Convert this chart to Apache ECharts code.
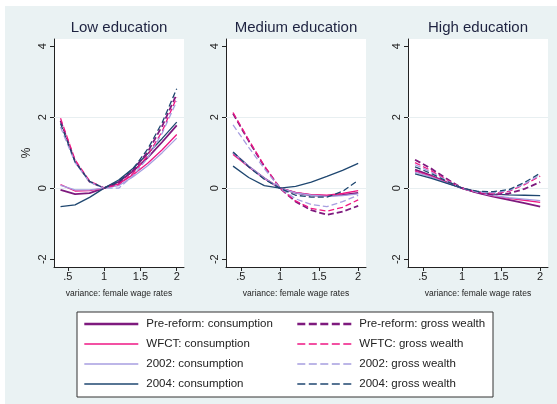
<!DOCTYPE html>
<html><head><meta charset="utf-8">
<script src="https://cdn.jsdelivr.net/npm/echarts@6/dist/echarts.min.js"></script>
<style>html,body{margin:0;padding:0;background:#fff}#c{width:557px;height:404px}</style>
</head><body><div id="c"></div>
<script>
// variance multiplier on female wage rates
const xs = [0.4, 0.6, 0.8, 1.0, 1.2, 1.4, 1.6, 1.8, 2.0];

const panelTitles = ['Low education', 'Medium education', 'High education'];
const xTicks = [0.5, 1, 1.5, 2];
const xTickLabels = ['.5', '1', '1.5', '2'];
const yTicks = [-2, 0, 2, 4];
const yTickLabels = ['-2', '0', '2', '4'];

const seriesNames = [
  'Pre-reform: consumption', 'WFCT: consumption', '2002: consumption', '2004: consumption',
  'Pre-reform: gross wealth', 'WFTC: gross wealth', '2002: gross wealth', '2004: gross wealth'
];

// Low education (% change)
const lowPreCons   = [-0.05, -0.17, -0.14, 0, 0.18, 0.48, 0.86, 1.30, 1.77];
const lowWfctCons  = [0.10, -0.08, -0.07, 0, 0.12, 0.38, 0.70, 1.08, 1.51];
const low02Cons    = [0.08, -0.05, -0.05, 0, 0.07, 0.32, 0.63, 1.00, 1.41];
const low04Cons    = [-0.52, -0.47, -0.26, 0, 0.23, 0.56, 0.97, 1.40, 1.86];
const lowPreGross  = [1.90, 0.76, 0.18, 0, 0.15, 0.50, 1.02, 1.75, 2.65];
const lowWftcGross = [1.97, 0.80, 0.20, 0, 0.10, 0.42, 0.92, 1.60, 2.55];
const low02Gross   = [1.72, 0.72, 0.17, 0, 0.00, 0.35, 0.85, 1.55, 2.45];
const low04Gross   = [1.82, 0.74, 0.19, 0, 0.18, 0.55, 1.10, 1.85, 2.80];

// Medium education
const medPreCons   = [1.00, 0.61, 0.28, 0, -0.13, -0.20, -0.22, -0.19, -0.13];
const medWfctCons  = [0.95, 0.60, 0.27, 0, -0.12, -0.18, -0.20, -0.15, -0.07];
const med02Cons    = [1.00, 0.62, 0.28, 0, -0.13, -0.20, -0.23, -0.21, -0.16];
const med04Cons    = [0.62, 0.30, 0.07, 0, 0.05, 0.17, 0.33, 0.50, 0.70];
const medPreGross  = [2.10, 1.33, 0.61, 0, -0.38, -0.62, -0.75, -0.66, -0.50];
const medWftcGross = [2.13, 1.36, 0.63, 0, -0.36, -0.57, -0.65, -0.54, -0.33];
const med02Gross   = [1.78, 1.15, 0.55, 0, -0.30, -0.46, -0.52, -0.38, -0.20];
const med04Gross   = [1.02, 0.60, 0.25, 0, -0.20, -0.25, -0.25, -0.09, 0.22];

// High education
const highPreCons   = [0.52, 0.36, 0.17, 0, -0.13, -0.24, -0.33, -0.42, -0.52];
const highWfctCons  = [0.48, 0.34, 0.16, 0, -0.12, -0.22, -0.29, -0.34, -0.40];
const high02Cons    = [0.45, 0.32, 0.15, 0, -0.12, -0.21, -0.27, -0.31, -0.35];
const high04Cons    = [0.40, 0.28, 0.14, 0, -0.10, -0.17, -0.19, -0.20, -0.21];
const highPreGross  = [0.80, 0.56, 0.27, 0, -0.13, -0.18, -0.15, -0.02, 0.17];
const highWftcGross = [0.72, 0.50, 0.24, 0, -0.12, -0.15, -0.09, 0.10, 0.34];
const high02Gross   = [0.66, 0.46, 0.22, 0, -0.11, -0.13, -0.07, 0.12, 0.37];
const high04Gross   = [0.60, 0.42, 0.20, 0, -0.09, -0.10, -0.04, 0.16, 0.42];

const panelData = [
  [lowPreCons, lowWfctCons, low02Cons, low04Cons, lowPreGross, lowWftcGross, low02Gross, low04Gross],
  [medPreCons, medWfctCons, med02Cons, med04Cons, medPreGross, medWftcGross, med02Gross, med04Gross],
  [highPreCons, highWfctCons, high02Cons, high04Cons, highPreGross, highWftcGross, high02Gross, high04Gross]
];

const colors = ['#7e1a7e', '#ef1784', '#a79ee0', '#1f4770'];
const styleOf = i => ({
  color: colors[i % 4],
  type: i >= 4 ? [6, 3] : 'solid',
  width: (i % 4 === 0) ? 1.8 : 1.3
});

const gridBoxes = [
  { left: 54, width: 130 },
  { left: 226, width: 140 },
  { left: 408, width: 140 }
];
const TOP = 39, HEIGHT = 228;
const FONT = '"Liberation Sans", Arial, sans-serif';
const INK = '#222';

const grids = [], xAxes = [], yAxes = [], titles = [], series = [];
gridBoxes.forEach((g, p) => {
  grids.push({ left: g.left, width: g.width, top: TOP, height: HEIGHT,
    show: true, backgroundColor: '#ffffff', borderWidth: 0 });
  titles.push({ text: panelTitles[p], left: g.left + g.width / 2, top: 20, textAlign: 'center',
    padding: 0,
    textStyle: { fontFamily: FONT, fontSize: 15, fontWeight: 'normal', color: '#1e2340' } });
  xAxes.push({ type: 'value', gridIndex: p, min: 0.31, max: 2.1,
    name: 'variance: female wage rates', nameLocation: 'middle', nameGap: 22,
    nameTextStyle: { fontFamily: FONT, fontSize: 8.5, color: INK },
    axisLine: { show: true, onZero: false, lineStyle: { color: '#222', width: 1 } },
    axisTick: { show: true, length: 4, customValues: xTicks, lineStyle: { color: '#222' } },
    axisLabel: { customValues: xTicks, margin: 4, fontFamily: FONT, fontSize: 11, color: INK,
      formatter: v => xTickLabels[xTicks.indexOf(v)] },
    splitLine: { show: false } });
  yAxes.push({ type: 'value', gridIndex: p, min: -2.22, max: 4.2,
    name: p === 0 ? '%' : '', nameLocation: 'middle', nameGap: 21, nameRotate: 90,
    nameTextStyle: { fontFamily: FONT, fontSize: 12, color: INK },
    axisLine: { show: true, onZero: false, lineStyle: { color: '#222', width: 1 } },
    axisTick: { show: true, length: 4, customValues: yTicks, lineStyle: { color: '#222' } },
    axisLabel: { customValues: yTicks, rotate: 90, margin: 6, fontFamily: FONT, fontSize: 11, color: INK,
      formatter: v => yTickLabels[yTicks.indexOf(v)] },
    splitLine: { show: false } });
  panelData[p].forEach((arr, i) => {
    const s = {
      type: 'line', name: seriesNames[i], xAxisIndex: p, yAxisIndex: p,
      data: xs.map((x, k) => [x, arr[k]]),
      symbol: 'none', smooth: false, lineStyle: styleOf(i), itemStyle: { color: colors[i % 4] },
      animation: false, z: 3
    };
    if (i === 0) {
      s.markLine = { silent: true, symbol: 'none', label: { show: false },
        lineStyle: { color: '#e8eff1', type: 'solid', width: 1 },
        data: [{ yAxis: 0 }, { yAxis: 2 }], z: 1 };
    }
    series.push(s);
  });
});

// legend keys: plain line samples, no marker
const legendItem = i => ({ name: seriesNames[i],
  lineStyle: { width: i % 4 === 0 ? 2.6 : 1.4, type: i >= 4 ? [8, 3.5] : 'solid', color: colors[i % 4] },
  itemStyle: { color: 'rgba(0,0,0,0)', borderWidth: 0, opacity: 0 } });
const legendBase = {
  orient: 'vertical', top: 318, padding: 0, itemWidth: 54, itemHeight: 14, itemGap: 8,
  textStyle: { fontFamily: FONT, fontSize: 11.5, color: INK, padding: [0, 0, 0, 3] },
  selectedMode: false
};

const chart = echarts.init(document.getElementById('c'), null, { renderer: 'canvas' });
chart.setOption({
  animation: false,
  backgroundColor: '#ffffff',
  graphic: [
    { type: 'rect', z: -10, silent: true, shape: { x: 5, y: 6, width: 552, height: 398 },
      style: { fill: '#eaf2f3' } },
    { type: 'rect', z: -5, silent: true, shape: { x: 77, y: 312, width: 416, height: 85 },
      style: { fill: '#ffffff', stroke: '#333', lineWidth: 1 } }
  ],
  title: titles,
  grid: grids,
  xAxis: xAxes,
  yAxis: yAxes,
  legend: [
    Object.assign({}, legendBase, { left: 83, data: [0, 1, 2, 3].map(legendItem) }),
    Object.assign({}, legendBase, { left: 296, data: [4, 5, 6, 7].map(legendItem) })
  ],
  series: series
});
</script>
</body></html>
